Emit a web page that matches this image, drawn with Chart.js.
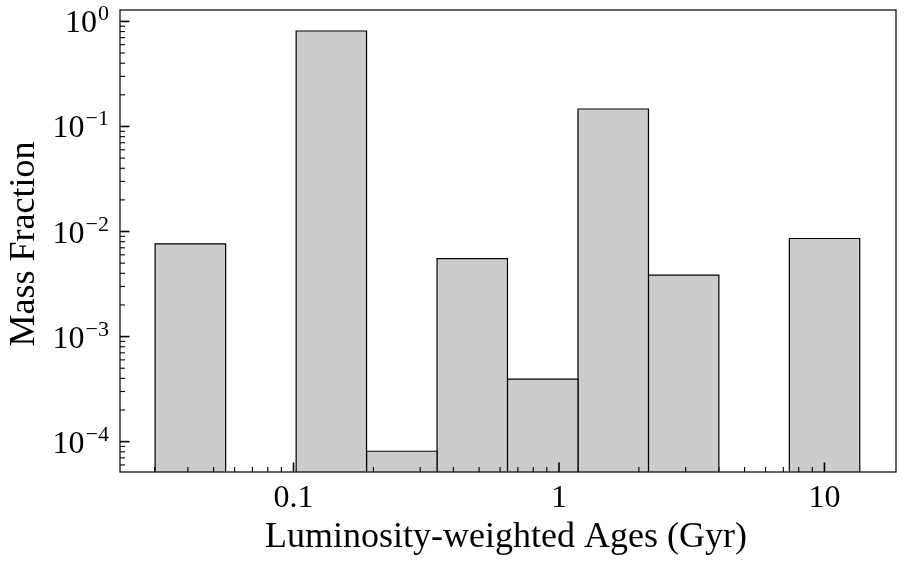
<!DOCTYPE html>
<html>
<head>
<meta charset="utf-8">
<script src="https://cdn.jsdelivr.net/npm/chart.js@4.4.1/dist/chart.umd.min.js"></script>
<style>
  html, body { margin: 0; padding: 0; background: #ffffff; }
  #wrap { width: 904px; height: 566px; }
</style>
</head>
<body>
<div id="wrap"><canvas id="c" width="904" height="566"></canvas></div>
<script>
// ---- data ----
const binEdges = [0.0301, 0.0555, 0.1023, 0.1884, 0.3472, 0.6397, 1.179, 2.173, 4.002, 7.374, 13.58];
const massFraction = [0.00764, 0, 0.810, 8.1e-5, 0.00553, 3.93e-4, 0.1466, 0.00384, 0, 0.00858];
const xTickValues = [0.1, 1, 10];
const xTickLabels = ['0.1', '1', '10'];
const yTickExponents = [-4, -3, -2, -1, 0];
const xLimits = [0.0222, 18.6];
const yLimits = [5.14e-5, 1.284];
const xTitle = 'Luminosity-weighted Ages (Gyr)';
const yTitle = 'Mass Fraction';

const FONT = '"Liberation Serif", "DejaVu Serif", serif';

// one closed outline per non-empty bin
const datasets = [];
massFraction.forEach((v, i) => {
  if (!(v > 0)) return;
  const x0 = binEdges[i], x1 = binEdges[i + 1];
  datasets.push({
    data: [{x: x0, y: yLimits[0]}, {x: x0, y: v}, {x: x1, y: v}, {x: x1, y: yLimits[0]}],
    borderColor: '#000000',
    borderWidth: 1.2,
    backgroundColor: '#cccccc',
    fill: 'start',
    pointRadius: 0,
    tension: 0
  });
});

function superscript(e) {
  return e < 0 ? '\u2212' + Math.abs(e) : String(e);
}

const axesPlugin = {
  id: 'mplAxes',
  afterDatasetsDraw(chart) {
    const ctx = chart.ctx;
    const a = chart.chartArea;
    const xs = chart.scales.x, ys = chart.scales.y;
    ctx.save();
    ctx.strokeStyle = '#000';
    ctx.fillStyle = '#000';
    // minor / major ticks on y (left, inward)
    for (let e = -5; e <= 1; e++) {
      for (let k = 1; k <= 9; k++) {
        const v = k * Math.pow(10, e);
        if (v < yLimits[0] || v > yLimits[1]) continue;
        const py = ys.getPixelForValue(v);
        const major = k === 1;
        ctx.lineWidth = major ? 1.6 : 1.1;
        ctx.beginPath();
        ctx.moveTo(a.left, py);
        ctx.lineTo(a.left + (major ? 9.5 : 5), py);
        ctx.stroke();
      }
    }
    // ticks on x (bottom, inward)
    for (let e = -3; e <= 2; e++) {
      for (let k = 1; k <= 9; k++) {
        const v = k * Math.pow(10, e);
        if (v < xLimits[0] || v > xLimits[1]) continue;
        const px = xs.getPixelForValue(v);
        const major = k === 1;
        ctx.lineWidth = major ? 1.6 : 1.1;
        ctx.beginPath();
        ctx.moveTo(px, a.bottom);
        ctx.lineTo(px, a.bottom - (major ? 9.5 : 5));
        ctx.stroke();
      }
    }
    // frame
    ctx.lineWidth = 1.2;
    ctx.strokeRect(a.left, a.top, a.right - a.left, a.bottom - a.top);

    // x tick labels
    ctx.font = '32px ' + FONT;
    ctx.textAlign = 'center';
    ctx.textBaseline = 'alphabetic';
    xTickValues.forEach((v, i) => {
      ctx.fillText(xTickLabels[i], xs.getPixelForValue(v), a.bottom + 35);
    });
    // y tick labels 10^n
    yTickExponents.forEach(e => {
      const py = ys.getPixelForValue(Math.pow(10, e));
      const right = a.left - 11;
      ctx.font = '22px ' + FONT;
      const sup = superscript(e);
      const wSup = ctx.measureText(sup).width;
      ctx.textAlign = 'left';
      ctx.fillText(sup, right - wSup, py - 1);
      ctx.font = '32px ' + FONT;
      ctx.textAlign = 'right';
      ctx.fillText('10', right - wSup - 1, py + 11);
    });
    // axis titles
    ctx.font = '36px ' + FONT;
    ctx.textAlign = 'center';
    ctx.fillText(xTitle, (a.left + a.right) / 2 - 2, a.bottom + 75);
    ctx.save();
    ctx.translate(34, (a.top + a.bottom) / 2 + 3);
    ctx.rotate(-Math.PI / 2);
    ctx.fillText(yTitle, 0, 0);
    ctx.restore();
    ctx.restore();
  }
};

new Chart(document.getElementById('c'), {
  type: 'line',
  data: { datasets },
  options: {
    responsive: false,
    animation: false,
    layout: { padding: { left: 120, top: 10, right: 8, bottom: 94 } },
    plugins: { legend: { display: false }, tooltip: { enabled: false } },
    scales: {
      x: { type: 'logarithmic', min: xLimits[0], max: xLimits[1], bounds: 'data', display: false },
      y: { type: 'logarithmic', min: yLimits[0], max: yLimits[1], bounds: 'data', display: false }
    }
  },
  plugins: [axesPlugin]
});
</script>
</body>
</html>
